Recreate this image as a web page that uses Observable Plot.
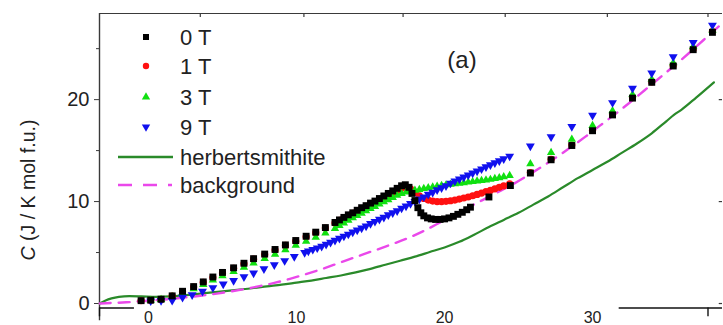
<!DOCTYPE html>
<html>
<head>
<meta charset="utf-8">
<script src="https://cdn.jsdelivr.net/npm/d3@7"></script>
<script src="https://cdn.jsdelivr.net/npm/@observablehq/plot@0.6"></script>
<style>
  html, body { margin: 0; padding: 0; background: #fff; }
  #chart { width: 723px; height: 325px; overflow: hidden; }
</style>
</head>
<body>
<div id="chart"></div>
<script>
// Specific heat C(T) in several magnetic fields, with the herbertsmithite
// curve and the lattice background for comparison.

// 0 T
const t0 = [-0.5, 0.15, 0.85, 1.6, 2.3, 3.05, 3.7, 4.35, 5.0, 5.75, 6.45, 7.1, 7.85, 8.55, 9.25, 9.95, 10.65, 11.3, 11.95, 12.6,
  12.9, 13.2, 13.5, 13.8, 14.1, 14.4, 14.7, 15.0, 15.3, 15.6, 15.9, 16.2, 16.5, 16.8, 17.1, 17.35, 17.6, 17.8, 18.0, 18.2,
  18.4, 18.6, 18.85, 19.1, 19.4, 19.7, 20.0, 20.3, 20.6, 20.9, 21.2, 21.5, 21.75, 23.0,
  24.45, 25.8, 27.2, 28.6, 30.0, 31.35, 32.7, 34.0, 35.45, 36.8, 38.1];
const c0 = [0.28, 0.33, 0.42, 0.75, 1.2, 1.66, 2.12, 2.6, 3.05, 3.5, 3.95, 4.4, 4.85, 5.3, 5.75, 6.18, 6.6, 7.0, 7.45, 7.95,
  8.2, 8.45, 8.7, 8.9, 9.15, 9.4, 9.6, 9.85, 10.05, 10.3, 10.55, 10.8, 11.05, 11.3, 11.55, 11.65, 11.4, 10.8, 10.1, 9.4,
  8.9, 8.6, 8.4, 8.3, 8.25, 8.25, 8.3, 8.4, 8.55, 8.75, 8.95, 9.2, 9.45, 10.45,
  11.57, 12.8, 14.1, 15.5, 16.95, 18.5, 20.15, 21.7, 23.3, 24.9, 26.6];

// 1 T
const t1 = [-0.5, 0.15, 0.85, 1.6, 2.3, 3.05, 3.7, 4.35, 5.0, 5.75, 6.45, 7.1, 7.85, 8.55, 9.25, 9.95, 10.65, 11.3, 11.95, 12.6,
  12.9, 13.2, 13.5, 13.8, 14.1, 14.4, 14.7, 15.0, 15.3, 15.6, 15.9, 16.2, 16.5, 16.8, 17.1, 17.4,
  17.7, 18.0, 18.3, 18.6, 18.9, 19.2, 19.5, 19.8, 20.1, 20.4, 20.7, 21.0, 21.3, 21.6, 21.9, 22.2, 22.5, 22.8, 23.1, 23.4, 23.7, 24.0, 24.4,
  25.8, 27.2, 28.6, 30.0, 31.35, 32.7, 34.0, 35.45, 36.8, 38.1];
const c1 = [0.27, 0.32, 0.4, 0.72, 1.17, 1.62, 2.08, 2.55, 3.0, 3.45, 3.9, 4.35, 4.8, 5.25, 5.7, 6.12, 6.55, 6.95, 7.4, 7.9,
  8.15, 8.4, 8.62, 8.85, 9.08, 9.3, 9.52, 9.75, 9.98, 10.2, 10.42, 10.65, 10.9, 11.1, 11.3, 11.4,
  11.25, 10.9, 10.55, 10.3, 10.15, 10.05, 10.0, 10.0, 10.02, 10.08, 10.15, 10.25, 10.35, 10.45, 10.57, 10.7, 10.83, 10.97, 11.1, 11.25, 11.4, 11.55, 11.75,
  12.85, 14.15, 15.55, 17.0, 18.55, 20.2, 21.75, 23.35, 24.95, 26.7];

// 3 T
const t3 = [0.15, 0.85, 1.6, 2.3, 3.05, 3.7, 4.35, 5.0, 5.75, 6.45, 7.1, 7.85, 8.55, 9.25, 9.95, 10.65, 11.3, 11.95, 12.6,
  12.9, 13.2, 13.5, 13.8, 14.1, 14.4, 14.7, 15.0, 15.3, 15.6, 15.9, 16.2, 16.5, 16.8, 17.1, 17.4,
  17.7, 18.0, 18.3, 18.6, 18.9, 19.2, 19.5, 19.8, 20.1, 20.4, 20.7, 21.0, 21.3, 21.6, 21.9, 22.2, 22.5, 22.8, 23.1, 23.4, 23.7, 24.0, 24.4,
  25.8, 27.2, 28.6, 30.0, 31.35, 32.7, 34.0, 35.45, 36.8, 38.1];
const c3 = [0.3, 0.38, 0.65, 1.05, 1.45, 1.85, 2.3, 2.72, 3.12, 3.55, 3.97, 4.4, 4.83, 5.27, 5.7, 6.1, 6.5, 6.92, 7.35,
  7.65, 7.9, 8.15, 8.4, 8.62, 8.85, 9.08, 9.3, 9.52, 9.75, 9.97, 10.18, 10.4, 10.6, 10.78, 10.92,
  11.02, 11.1, 11.18, 11.27, 11.35, 11.43, 11.5, 11.57, 11.63, 11.69, 11.75, 11.8, 11.85, 11.9, 11.95, 12.0, 12.05, 12.1, 12.17, 12.25, 12.33, 12.42, 12.55,
  13.7, 14.8, 16.1, 17.45, 18.9, 20.5, 22.0, 23.6, 25.2, 26.8];

// 9 T
const t9 = [0.15, 0.85, 1.6, 2.3, 2.95, 3.65, 4.35, 5.05, 5.75, 6.45, 7.1, 7.8, 8.5, 9.2, 9.85, 10.55,
  10.8, 11.1, 11.4, 11.7, 12.0, 12.3, 12.6, 12.9, 13.2, 13.5, 13.8, 14.1, 14.4, 14.7, 15.0, 15.3, 15.6, 15.9, 16.2, 16.5, 16.8, 17.1, 17.4,
  17.7, 18.0, 18.3, 18.6, 18.9, 19.2, 19.5, 19.8, 20.1, 20.4, 20.7, 21.0, 21.3, 21.6, 21.9, 22.2, 22.5, 22.8, 23.1, 23.4, 23.7, 24.0, 24.4,
  25.8, 27.2, 28.6, 30.0, 31.35, 32.7, 34.0, 35.45, 36.8, 38.1];
const c9 = [0.25, 0.28, 0.3, 0.6, 0.85, 1.2, 1.55, 1.9, 2.25, 2.62, 2.98, 3.4, 3.8, 4.2, 4.6, 5.0,
  5.15, 5.3, 5.45, 5.6, 5.8, 6.0, 6.2, 6.4, 6.6, 6.8, 7.0, 7.2, 7.4, 7.6, 7.85, 8.05, 8.25, 8.45, 8.7, 8.9, 9.1, 9.35, 9.55,
  9.8, 10.0, 10.25, 10.45, 10.7, 10.9, 11.15, 11.35, 11.55, 11.8, 12.0, 12.2, 12.4, 12.6, 12.8, 13.0, 13.2, 13.4, 13.6, 13.8, 14.0, 14.2, 14.45,
  15.45, 16.35, 17.35, 18.45, 19.7, 21.1, 22.6, 24.2, 25.6, 27.3];

// herbertsmithite
const tH = [-3.3, -2.9, -2.5, -2.0, -1.3, -0.5, 0.5, 1.5, 2.5, 3.5, 5, 6, 7, 8, 9, 10, 11, 12, 13, 14, 15, 16, 17, 18, 19,
  20, 21, 22, 23, 24, 25, 26, 27, 28, 29, 30, 31, 32, 33, 34, 35, 35.5, 36, 37, 38.2];
const cH = [0.0, 0.3, 0.5, 0.65, 0.72, 0.7, 0.66, 0.7, 0.82, 0.97, 1.2, 1.35, 1.5, 1.68, 1.85, 2.05, 2.25, 2.5, 2.75, 3.05, 3.4, 3.8, 4.2, 4.6, 5.05,
  5.5, 6.05, 6.75, 7.5, 8.2, 8.9, 9.7, 10.5, 11.4, 12.3, 13.1, 13.9, 14.8, 15.7, 16.7, 17.9, 18.5, 19.0, 20.2, 21.7];

// lattice background
const tB = [-3.3, -2.5, -1.5, -0.5, 0.5, 1.5, 2.5, 3.5, 4.5, 5.5, 6.5, 7.5, 8.5, 9.5, 10.5, 11.5, 12.5, 13.5, 14.5, 15.5, 16.5, 17.5,
  18.5, 19.5, 20.5, 21.5, 22.5, 23.5, 24.5, 25.5, 26.5, 27.5, 28.5, 29.5, 30.5, 31.5, 32.5, 33.5, 34.5, 35.5, 36.5, 37.5, 38.78];
const cB = [0.0, 0.05, 0.12, 0.22, 0.33, 0.45, 0.6, 0.76, 0.95, 1.17, 1.42, 1.7, 2.02, 2.4, 2.82, 3.28, 3.78, 4.3, 4.82, 5.32, 5.85, 6.4,
  7.05, 7.8, 8.6, 9.35, 10.1, 10.85, 11.6, 12.45, 13.35, 14.3, 15.3, 16.35, 17.45, 18.55, 19.7, 20.9, 22.1, 23.3, 24.55, 25.85, 27.5];

// axis extent and tick positions
const xDomain = [-3.31, 38.78];
const yDomain = [-0.44, 28.45];
const xTickValues = [0, 10, 20, 30];
const yTickValues = [0, 10, 20];
const yMinorTicks = [5, 15, 25];
const topTicks = [3.5, 10.5, 17.2, 24.1, 31.0, 37.8];
const bottomTicks = [-3.31, 37.8];
const bottomSpans = [[-3.31, -0.95], [31.8, 38.78]];

const legendItems = ["0 T", "1 T", "3 T", "9 T"];
const lineLegend = ["herbertsmithite", "background"];

const colors = {
  f0: "#000000", f1: "#ff1010", f3: "#10e010", f9: "#1010ee",
  herb: "#2a8a2a", bg: "#ea48ea", axis: "#3a3a3a", text: "#222"
};

const rows = (t, c) => t.map((x, i) => ({t: x, c: c[i]}));

// downward-pointing filled triangle
const triDown = {
  draw(context, size) {
    const y = -Math.sqrt(size / (Math.sqrt(3) * 3));
    const s = Math.sqrt(3);
    context.moveTo(0, -y * 2);
    context.lineTo(-s * y, y);
    context.lineTo(s * y, y);
    context.closePath();
  }
};

const [xLo, xHi] = xDomain;
const [yLo, yHi] = yDomain;
const font = "'Liberation Sans', Arial, sans-serif";

const plot = Plot.plot({
  width: 723,
  height: 325,
  marginLeft: 99,
  marginRight: 1,
  marginTop: 13,
  marginBottom: 17.5,
  style: {fontFamily: font, background: "#fff", color: colors.text},
  x: {domain: xDomain},
  y: {domain: yDomain},
  marks: [
    // frame pieces
    Plot.ruleY([yHi], {stroke: colors.axis, strokeWidth: 1.2}),
    Plot.ruleX([xLo], {y1: () => -1.7, y2: () => yHi, stroke: colors.axis, strokeWidth: 1.4}),
    Plot.ruleY(bottomSpans, {y: () => yLo, x1: d => d[0], x2: d => d[1], stroke: "#111", strokeWidth: 1.4}),
    Plot.ruleX(bottomTicks, {y1: () => yLo, y2: () => -1.3, stroke: "#111", strokeWidth: 1.4}),
    Plot.ruleX(topTicks, {y1: () => yHi, y2: () => yHi - 0.4, stroke: colors.axis, strokeWidth: 1.2}),
    Plot.ruleY(yTickValues, {x1: () => xHi - 0.22, x2: () => xHi, stroke: colors.axis, strokeWidth: 1.2}),
    Plot.axisY({ticks: yTickValues, tickSize: 5, tickPadding: 5, fontSize: 20, label: null, stroke: colors.axis}),
    Plot.axisY({ticks: yMinorTicks, tickSize: 3, tickFormat: () => "", label: null, stroke: colors.axis}),
    Plot.axisX({ticks: xTickValues, tickSize: 0, tickPadding: 4, fontSize: 16, label: null}),

    // reference curves
    Plot.line(rows(tH, cH), {x: "t", y: "c", stroke: colors.herb, strokeWidth: 2.2, curve: "monotone-x"}),
    Plot.line(rows(tB, cB), {x: "t", y: "c", stroke: colors.bg, strokeWidth: 2.4, strokeDasharray: "11,8", curve: "monotone-x"}),

    // measured data
    Plot.dot(rows(t1, c1), {x: "t", y: "c", symbol: "circle", r: 3.6, fill: colors.f1}),
    Plot.dot(rows(t3, c3), {x: "t", y: "c", symbol: "triangle", r: 3.1, fill: colors.f3}),
    Plot.dot(rows(t9, c9), {x: "t", y: "c", symbol: triDown, r: 3.3, fill: colors.f9}),
    Plot.dot(rows(t0, c0), {x: "t", y: "c", symbol: "square", r: 3.9, fill: colors.f0})
  ]
});

document.getElementById("chart").appendChild(plot);

const svg = d3.select(plot);

// y-axis title
const yTitle = svg.append("text")
  .attr("transform", "translate(35,190) rotate(-90)")
  .attr("text-anchor", "middle")
  .attr("font-family", font)
  .attr("font-size", 19.5)
  .attr("fill", colors.text);
yTitle.append("tspan").attr("font-style", "italic").text("C");
yTitle.append("tspan").text(" (J / K mol f.u.)");

// panel tag
svg.append("text")
  .attr("x", 462).attr("y", 60).attr("dy", "0.35em")
  .attr("text-anchor", "middle")
  .attr("font-family", font).attr("font-size", 24).attr("fill", colors.text)
  .text("(a)");

// legend
const lg = svg.append("g")
  .attr("font-family", font).attr("font-size", 22)
  .attr("fill", colors.text).attr("text-anchor", "start");
const legendSymbols = [
  {type: d3.symbolSquare, size: 36, color: colors.f0},
  {type: d3.symbolCircle, size: 32, color: colors.f1},
  {type: d3.symbolTriangle, size: 30, color: colors.f3},
  {type: triDown, size: 30, color: colors.f9}
];
const rowY = [37, 66, 97, 127, 157, 185];
legendItems.forEach((label, i) => {
  const s = legendSymbols[i];
  lg.append("path")
    .attr("transform", `translate(146,${rowY[i]})`)
    .attr("d", d3.symbol().type(s.type).size(s.size)())
    .attr("fill", s.color);
  lg.append("text").attr("x", 180).attr("y", rowY[i]).attr("dy", "0.35em").text(label);
});
lg.append("line").attr("x1", 118).attr("x2", 173).attr("y1", rowY[4]).attr("y2", rowY[4])
  .attr("stroke", colors.herb).attr("stroke-width", 2.4);
lg.append("text").attr("x", 180).attr("y", rowY[4]).attr("dy", "0.35em").text(lineLegend[0]);
lg.append("line").attr("x1", 118).attr("x2", 172).attr("y1", rowY[5]).attr("y2", rowY[5])
  .attr("stroke", colors.bg).attr("stroke-width", 2.4).attr("stroke-dasharray", "14,11");
lg.append("text").attr("x", 180).attr("y", rowY[5]).attr("dy", "0.35em").text(lineLegend[1]);
</script>
</body>
</html>
